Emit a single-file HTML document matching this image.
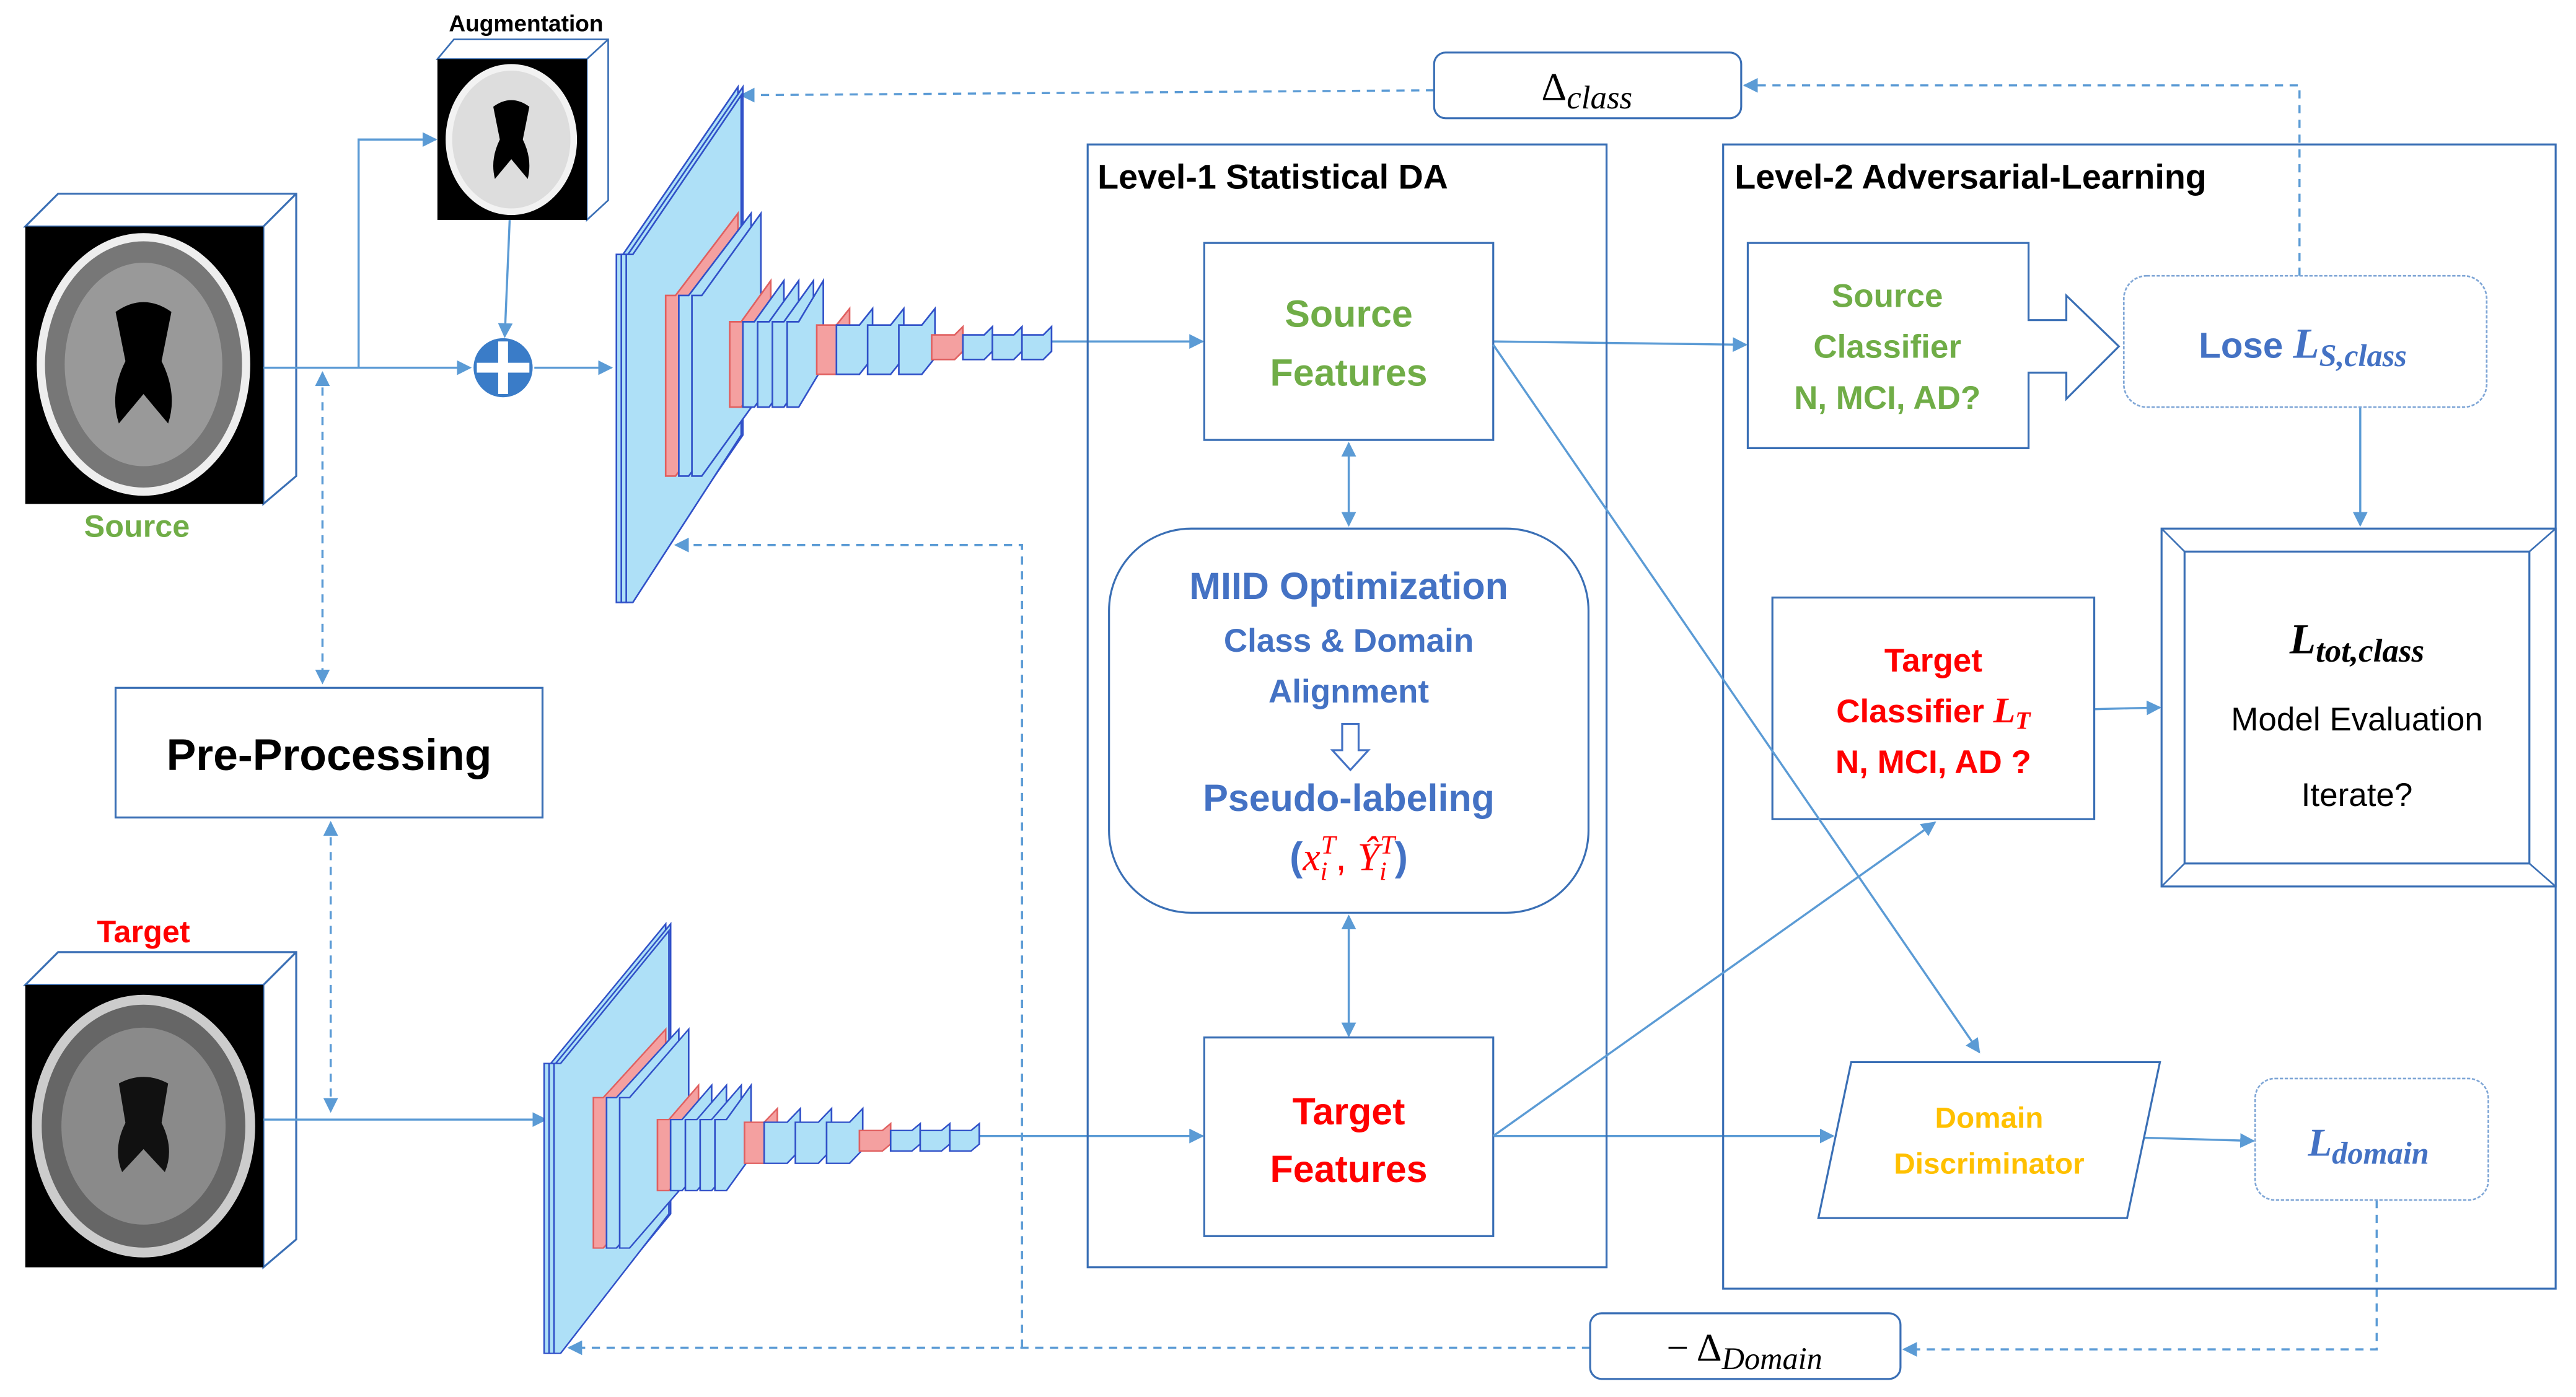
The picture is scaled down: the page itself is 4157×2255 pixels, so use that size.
<!DOCTYPE html>
<html><head><meta charset="utf-8"><style>
html,body{margin:0;padding:0;background:#fff;}
svg{display:block;}
text{font-family:"Liberation Sans",sans-serif;}
.m{font-family:"Liberation Serif",serif;font-style:italic;}
</style></head><body>
<svg width="4157" height="2255" viewBox="0 0 1568 851" xmlns="http://www.w3.org/2000/svg">
<defs>
<marker id="a" viewBox="0 0 10 10" refX="9" refY="5" markerWidth="9" markerHeight="9" markerUnits="userSpaceOnUse" orient="auto-start-reverse"><path d="M0,0 L10,5 L0,10 z" fill="#5b9bd5"/></marker>
<g id="cnn" stroke="#3050c8" stroke-width="1">
 <g fill="#aee0f7">
  <path d="M375,155 h4 l70,-102 v212 l-70,102 h-4 z"/>
  <path d="M378,155 h4 l70,-102 v212 l-70,102 h-4 z"/>
  <path d="M381,155 h4 l66,-97 v207 l-66,102 h-4 z"/>
  <path d="M405,180 h6 l38,-50 v110 l-38,50 h-6 z" fill="#f4a0a0" stroke="#e06060"/>
  <path d="M413,180 h6 l38,-50 v110 l-38,50 h-6 z"/>
  <path d="M421,180 h6 l36,-50 v110 l-36,50 h-6 z"/>
  <path d="M444,196 h7 l18,-25 v52 l-18,25 h-7 z" fill="#f4a0a0" stroke="#e06060"/>
  <path d="M452,196 h7 l18,-25 v52 l-18,25 h-7 z"/>
  <path d="M461,196 h7 l18,-25 v52 l-18,25 h-7 z"/>
  <path d="M470,196 h7 l18,-25 v52 l-18,25 h-7 z"/>
  <path d="M479,196 h7 l15,-25 v52 l-15,25 h-7 z"/>
  <path d="M497,198 h12 l8,-10 v30 l-8,10 h-12 z" fill="#f4a0a0" stroke="#e06060"/>
  <path d="M509,198 h14 l8,-10 v30 l-8,10 h-14 z"/>
  <path d="M528,198 h14 l8,-10 v30 l-8,10 h-14 z"/>
  <path d="M547,198 h14 l8,-10 v30 l-8,10 h-14 z"/>
  <path d="M567,204 h14 l5,-5 v15 l-5,5 h-14 z" fill="#f4a0a0" stroke="#e06060"/>
  <path d="M586,204 h13 l5,-5 v15 l-5,5 h-13 z"/>
  <path d="M604,204 h13 l5,-5 v15 l-5,5 h-13 z"/>
  <path d="M622,204 h13 l5,-5 v15 l-5,5 h-13 z"/>
 </g>
</g>
</defs>

<!-- Source brain -->
<g stroke="#3a6fb5" stroke-width="1.2" fill="#fff">
 <path d="M15,138 L35,118 L180,118 L180,290 L160,307 L160,138 Z"/>
 <line x1="160" y1="138" x2="180" y2="118"/>
</g>
<rect x="15" y="138" width="145" height="169" fill="#000"/>
<ellipse cx="87" cy="222" rx="65" ry="80" fill="#eee"/>
<ellipse cx="87" cy="222" rx="60" ry="75" fill="#777"/>
<ellipse cx="87" cy="222" rx="48" ry="62" fill="#999"/>
<path d="M70,190 q17,-12 34,0 l-6,30 q10,20 4,38 l-15,-18 l-15,18 q-6,-18 4,-38 z" fill="#000"/>
<text x="83" y="327" font-size="19" font-weight="bold" fill="#70ad47" text-anchor="middle">Source</text>

<!-- Augmentation -->
<text x="320" y="19" font-size="14" font-weight="bold" text-anchor="middle">Augmentation</text>
<g stroke="#3a6fb5" stroke-width="1" fill="#fff">
 <path d="M266,36 L276,24 L370,24 L370,122 L357,134 L357,36 Z"/>
 <line x1="357" y1="36" x2="370" y2="24"/>
</g>
<rect x="266" y="36" width="91" height="98" fill="#000"/>
<ellipse cx="311" cy="85" rx="40" ry="46" fill="#f2f2f2"/>
<ellipse cx="311" cy="85" rx="36" ry="42" fill="#ddd"/>
<path d="M300,65 q11,-8 22,0 l-4,20 q6,12 3,24 l-10,-12 l-10,12 q-3,-12 3,-24 z" fill="#000"/>

<!-- Target brain -->
<g stroke="#3a6fb5" stroke-width="1.2" fill="#fff">
 <path d="M15,600 L35,580 L180,580 L180,755 L160,772 L160,600 Z"/>
 <line x1="160" y1="600" x2="180" y2="580"/>
</g>
<rect x="15" y="600" width="145" height="172" fill="#000"/>
<ellipse cx="87" cy="686" rx="68" ry="80" fill="#ccc"/>
<ellipse cx="87" cy="686" rx="62" ry="74" fill="#666"/>
<ellipse cx="87" cy="686" rx="50" ry="60" fill="#8a8a8a"/>
<path d="M72,660 q15,-8 30,0 l-4,24 q8,16 2,30 l-13,-14 l-13,14 q-6,-14 2,-30 z" fill="#111"/>
<text x="87" y="574" font-size="19" font-weight="bold" fill="#ff0000" text-anchor="middle">Target</text>

<!-- Pre-Processing -->
<rect x="70" y="419" width="260" height="79" fill="#fff" stroke="#3a6fb5" stroke-width="1.2"/>
<text x="200" y="469" font-size="27" font-weight="bold" text-anchor="middle">Pre-Processing</text>

<g stroke="#5b9bd5" stroke-width="1.3" fill="none">
 <line x1="160" y1="224" x2="286" y2="224" marker-end="url(#a)"/>
 <polyline points="218,224 218,85 265,85" marker-end="url(#a)"/>
 <line x1="310" y1="134" x2="307" y2="205" marker-end="url(#a)"/>
 <line x1="325" y1="224" x2="372" y2="224" marker-end="url(#a)"/>
 <line x1="160" y1="682" x2="332" y2="682" marker-end="url(#a)"/>
 <line x1="640" y1="208" x2="732" y2="208" marker-end="url(#a)"/>
 <line x1="596" y1="692" x2="732" y2="692" marker-end="url(#a)"/>
 <line x1="909" y1="208" x2="1063" y2="210" marker-end="url(#a)"/>
 <line x1="909" y1="692" x2="1116" y2="692" marker-end="url(#a)"/>
 <line x1="821" y1="270" x2="821" y2="320" marker-start="url(#a)" marker-end="url(#a)"/>
 <line x1="821" y1="558" x2="821" y2="631" marker-start="url(#a)" marker-end="url(#a)"/>
 <line x1="1437" y1="248" x2="1437" y2="320" marker-end="url(#a)"/>
 <line x1="1275" y1="432" x2="1315" y2="431" marker-end="url(#a)"/>
 <line x1="1303" y1="693" x2="1372" y2="695" marker-end="url(#a)"/>
</g>
<circle cx="306" cy="224" r="18" fill="#3a7cc8"/>
<rect x="303" y="208" width="6" height="32" fill="#fff"/>
<rect x="290" y="221" width="32" height="6" fill="#fff"/>

<g stroke="#5b9bd5" stroke-width="1.3" fill="none" stroke-dasharray="5,4">
 <line x1="196" y1="227" x2="196" y2="416" marker-start="url(#a)" marker-end="url(#a)"/>
 <line x1="201" y1="501" x2="201" y2="677" marker-start="url(#a)" marker-end="url(#a)"/>
 <polyline points="1400,168 1400,52 1062,52" marker-end="url(#a)"/>
 <line x1="873" y1="55" x2="451" y2="58" marker-end="url(#a)"/>
 <polyline points="1447,731 1447,822 1159,822" marker-end="url(#a)"/>
 <line x1="968" y1="821" x2="346" y2="821" marker-end="url(#a)"/>
 <polyline points="622,821 622,332 411,332" marker-end="url(#a)"/>
</g>

<use href="#cnn"/>
<use href="#cnn" transform="matrix(1,0,0,0.833,-44,518.7)"/>

<rect x="873" y="32" width="187" height="40" rx="7" fill="#fff" stroke="#3a6fb5" stroke-width="1.2"/>
<text x="966" y="61" font-size="24" text-anchor="middle"><tspan font-family="Liberation Serif">Δ</tspan><tspan class="m" font-size="20" dy="5">class</tspan></text>

<rect x="662" y="88" width="316" height="684" fill="none" stroke="#3a6fb5" stroke-width="1.2"/>
<text x="668" y="115" font-size="21" font-weight="bold">Level-1 Statistical DA</text>
<rect x="1049" y="88" width="507" height="697" fill="none" stroke="#3a6fb5" stroke-width="1.2"/>
<text x="1056" y="115" font-size="21" font-weight="bold">Level-2 Adversarial-Learning</text>

<rect x="733" y="148" width="176" height="120" fill="#fff" stroke="#3a6fb5" stroke-width="1.2"/>
<text x="821" y="199" font-size="23" font-weight="bold" fill="#70ad47" text-anchor="middle">Source</text>
<text x="821" y="235" font-size="23" font-weight="bold" fill="#70ad47" text-anchor="middle">Features</text>

<rect x="675" y="322" width="292" height="234" rx="50" fill="#fff" stroke="#3a6fb5" stroke-width="1.2"/>
<text x="821" y="365" font-size="23" font-weight="bold" fill="#4472c4" text-anchor="middle">MIID Optimization</text>
<text x="821" y="397" font-size="20" font-weight="bold" fill="#4472c4" text-anchor="middle">Class &amp; Domain</text>
<text x="821" y="428" font-size="20" font-weight="bold" fill="#4472c4" text-anchor="middle">Alignment</text>
<path d="M817,441 h10 v16 h6 l-11,12 l-11,-12 h6 z" fill="#fff" stroke="#4472c4" stroke-width="1.2"/>
<text x="821" y="494" font-size="23" font-weight="bold" fill="#4472c4" text-anchor="middle">Pseudo-labeling</text>
<text x="821" y="530" font-size="24" text-anchor="middle"><tspan fill="#4472c4" font-weight="bold">(</tspan><tspan class="m" fill="#ff0000">x</tspan><tspan class="m" fill="#ff0000" font-size="16" dy="6">i</tspan><tspan class="m" fill="#ff0000" font-size="16" dx="-4" dy="-16">T</tspan><tspan fill="#ff0000" dy="10">, </tspan><tspan class="m" fill="#ff0000">Ŷ</tspan><tspan class="m" fill="#ff0000" font-size="16" dy="6">i</tspan><tspan class="m" fill="#ff0000" font-size="16" dx="-4" dy="-16">T</tspan><tspan fill="#4472c4" font-weight="bold" dy="10">)</tspan></text>

<rect x="733" y="632" width="176" height="121" fill="#fff" stroke="#3a6fb5" stroke-width="1.2"/>
<text x="821" y="685" font-size="23" font-weight="bold" fill="#ff0000" text-anchor="middle">Target</text>
<text x="821" y="720" font-size="23" font-weight="bold" fill="#ff0000" text-anchor="middle">Features</text>

<path d="M1064,148 H1235 V195 H1258 V180 L1290,211 L1258,243 V227 H1235 V273 H1064 Z" fill="#fff" stroke="#3a6fb5" stroke-width="1.2"/>
<text x="1149" y="187" font-size="20" font-weight="bold" fill="#70ad47" text-anchor="middle">Source</text>
<text x="1149" y="218" font-size="20" font-weight="bold" fill="#70ad47" text-anchor="middle">Classifier</text>
<text x="1149" y="249" font-size="20" font-weight="bold" fill="#70ad47" text-anchor="middle">N, MCI, AD?</text>

<rect x="1293" y="168" width="221" height="80" rx="14" fill="#fff" stroke="#7fa6d6" stroke-width="1" stroke-dasharray="2,1"/>
<text x="1402" y="218" font-size="22" fill="#4472c4" text-anchor="middle"><tspan font-weight="bold">Lose </tspan><tspan class="m" font-size="26" font-weight="bold">L</tspan><tspan class="m" font-size="19" font-weight="bold" dy="5">S,class</tspan></text>

<rect x="1316" y="322" width="240" height="218" fill="#fff" stroke="#3a6fb5" stroke-width="1.2"/>
<rect x="1330" y="336" width="210" height="190" fill="none" stroke="#3a6fb5" stroke-width="1.2"/>
<g stroke="#3a6fb5" stroke-width="1"><line x1="1316" y1="322" x2="1330" y2="336"/><line x1="1556" y1="322" x2="1540" y2="336"/><line x1="1316" y1="540" x2="1330" y2="526"/><line x1="1556" y1="540" x2="1540" y2="526"/></g>
<text x="1435" y="398" font-size="26" font-weight="bold" text-anchor="middle"><tspan class="m">L</tspan><tspan class="m" font-size="20" dy="5">tot,class</tspan></text>
<text x="1435" y="445" font-size="20" text-anchor="middle">Model Evaluation</text>
<text x="1435" y="491" font-size="20" text-anchor="middle">Iterate?</text>

<rect x="1079" y="364" width="196" height="135" fill="#fff" stroke="#3a6fb5" stroke-width="1.2"/>
<text x="1177" y="409" font-size="20" font-weight="bold" fill="#ff0000" text-anchor="middle">Target</text>
<text x="1177" y="440" font-size="20" font-weight="bold" fill="#ff0000" text-anchor="middle">Classifier <tspan class="m" font-size="22">L</tspan><tspan class="m" font-size="15" dy="4">T</tspan></text>
<text x="1177" y="471" font-size="20" font-weight="bold" fill="#ff0000" text-anchor="middle">N, MCI, AD ?</text>
<line x1="909" y1="692" x2="1178" y2="501" stroke="#5b9bd5" stroke-width="1.3" marker-end="url(#a)"/>
<line x1="909" y1="210" x2="1205" y2="641" stroke="#5b9bd5" stroke-width="1.3" marker-end="url(#a)"/>

<path d="M1127,647 H1315 L1295,742 H1107 Z" fill="#fff" stroke="#3a6fb5" stroke-width="1.2"/>
<text x="1211" y="687" font-size="18" font-weight="bold" fill="#ffc000" text-anchor="middle">Domain</text>
<text x="1211" y="715" font-size="18" font-weight="bold" fill="#ffc000" text-anchor="middle">Discriminator</text>

<rect x="1373" y="657" width="142" height="74" rx="12" fill="#fff" stroke="#7fa6d6" stroke-width="1" stroke-dasharray="2,1"/>
<text x="1442" y="704" font-size="24" fill="#4472c4" font-weight="bold" text-anchor="middle"><tspan class="m">L</tspan><tspan class="m" font-size="19" dy="5">domain</tspan></text>

<rect x="968" y="800" width="189" height="40" rx="7" fill="#fff" stroke="#3a6fb5" stroke-width="1.2"/>
<text x="1062" y="829" font-size="24" text-anchor="middle"><tspan font-family="Liberation Serif">− Δ</tspan><tspan class="m" font-size="19" dy="5">Domain</tspan></text>
</svg>
</body></html>
